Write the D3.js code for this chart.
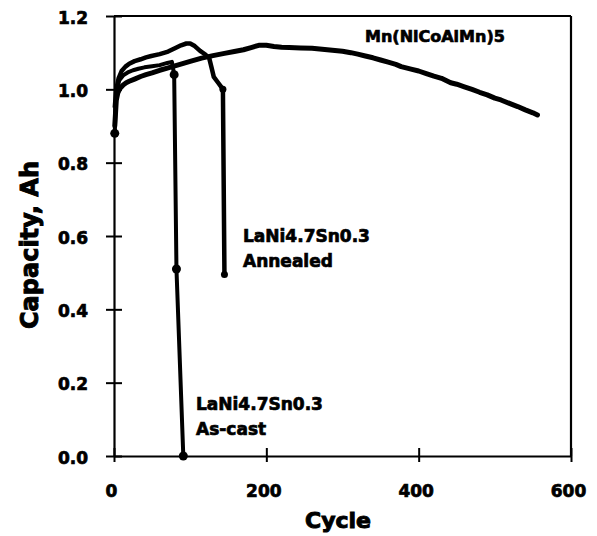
<!DOCTYPE html>
<html><head><meta charset="utf-8">
<script src="https://cdn.jsdelivr.net/npm/d3@7"></script>
<style>
html,body{margin:0;padding:0;background:#fff;}
svg{display:block;}
text{font-family:"DejaVu Sans",sans-serif;font-weight:bold;fill:#000;stroke:#000;stroke-width:0.7px;}
</style></head>
<body>
<svg id="c" width="597" height="536"></svg>
<script>
const xTicks = [0, 200, 400, 600];
const yTicks = [0, 0.2, 0.4, 0.6, 0.8, 1.0, 1.2];
const xLabel = "Cycle";
const yLabel = "Capacity, Ah";

// Mn(NiCoAlMn)5
const mnCycles = [1,3,5,8,12,16,20,27,35,42,50,60,70,80,90,100,115,130,145,158,170,180,190,200,210,220,230,245,260,270,280,290,300,311,320,330,340,350,360,370,377,390,400,410,420,430,442,450,460,470,480,490,500,508,520,530,540,550,556];
const mnCap    = [0.90,0.97,0.99,1.003,1.012,1.018,1.022,1.028,1.035,1.04,1.045,1.052,1.058,1.064,1.07,1.076,1.085,1.092,1.098,1.103,1.108,1.114,1.12,1.12,1.117,1.115,1.114,1.113,1.112,1.11,1.108,1.106,1.104,1.10,1.096,1.091,1.086,1.08,1.074,1.068,1.062,1.055,1.05,1.043,1.036,1.03,1.018,1.014,1.007,1.0,0.992,0.985,0.976,0.971,0.961,0.953,0.944,0.936,0.93];

// LaNi4.7Sn0.3 Annealed
const anCycles = [1,3,6,10,15,20,27,35,42,49,60,71,80,88,95,100,106,113,120,125,128,131,136,141,143,145];
const anCap    = [0.95,1.0,1.03,1.05,1.062,1.07,1.077,1.082,1.087,1.091,1.096,1.103,1.112,1.12,1.125,1.125,1.118,1.105,1.095,1.085,1.06,1.034,1.02,1.006,1.0,0.495];
const anMarkCycles = [143,145];
const anMarkCap    = [1.0,0.495];

// LaNi4.7Sn0.3 As-cast
const acCycles = [1,2,4,7,12,18,25,32,40,50,60,70,76,79,82,91];
const acCap    = [0.88,0.95,1.0,1.025,1.038,1.046,1.052,1.056,1.06,1.063,1.066,1.072,1.075,1.04,0.51,0.0];
const acMarkCycles = [1,79,82,91];
const acMarkCap    = [0.88,1.04,0.51,0.0];

const labels = [
  {lines:["Mn(NiCoAlMn)5"], size:16},
  {lines:["LaNi4.7Sn0.3","Annealed"], size:17},
  {lines:["LaNi4.7Sn0.3","As-cast"], size:17}
];

const svg = d3.select("#c");
const x = d3.scaleLinear().domain([0,600]).range([114,571]);
const y = d3.scaleLinear().domain([0,1.2]).range([456,16]);

// frame top & right
svg.append("line").attr("x1",x(0)).attr("x2",x(600)).attr("y1",y(1.2)).attr("y2",y(1.2))
  .attr("stroke","#000").attr("stroke-width",2.2);
svg.append("line").attr("x1",x(600)).attr("x2",x(600)).attr("y1",y(1.2)).attr("y2",y(0))
  .attr("stroke","#000").attr("stroke-width",2.2);

// axes
const gx = svg.append("g").attr("transform",`translate(0,${y(0)})`)
  .call(d3.axisBottom(x).tickValues(xTicks).tickFormat(d3.format("d")).tickSizeOuter(0));
gx.select(".domain").attr("stroke","#000").attr("stroke-width",2.2);
gx.selectAll(".tick line").attr("y1",-8).attr("y2",6).attr("stroke","#000").attr("stroke-width",2);
gx.selectAll(".tick text").attr("y",null).attr("dy",null).attr("dx",-3)
  .attr("transform","translate(0,41)").style("font-size","17px")
  .style("font-family","DejaVu Sans").style("font-weight","bold").attr("fill","#000");

const gy = svg.append("g").attr("transform",`translate(${x(0)},0)`)
  .call(d3.axisLeft(y).tickValues(yTicks).tickFormat(d3.format(".1f")).tickSizeOuter(0));
gy.select(".domain").attr("stroke","#000").attr("stroke-width",2.2);
gy.selectAll(".tick line").attr("x1",-8).attr("x2",8).attr("stroke","#000").attr("stroke-width",2);
gy.selectAll(".tick text").attr("x",-26).attr("dy","0.42em")
  .style("font-size","17px").style("font-family","DejaVu Sans").style("font-weight","bold").attr("fill","#000");

// axis titles
svg.append("text").attr("x",338).attr("y",528).attr("text-anchor","middle")
  .style("font-size","22px").style("stroke-width","1px").text(xLabel);
svg.append("text").attr("transform","translate(38,245) rotate(-90)").attr("text-anchor","middle")
  .style("font-size","24px").style("stroke-width","1px").text(yLabel);

// curves
const line = d3.line().x(d=>x(d[0])).y(d=>y(d[1]));
const zip = (a,b)=>a.map((v,i)=>[v,b[i]]);
svg.append("path").datum(zip(mnCycles,mnCap)).attr("d",line)
  .attr("fill","none").attr("stroke","#000").attr("stroke-width",5).attr("stroke-linejoin","round").attr("stroke-linecap","round");
svg.append("path").datum(zip(anCycles,anCap)).attr("d",line)
  .attr("fill","none").attr("stroke","#000").attr("stroke-width",4.5).attr("stroke-linejoin","round");
svg.append("path").datum(zip(acCycles,acCap)).attr("d",line)
  .attr("fill","none").attr("stroke","#000").attr("stroke-width",4).attr("stroke-linejoin","round");

svg.selectAll("circle.an").data(zip(anMarkCycles,anMarkCap)).enter().append("circle")
  .attr("cx",d=>x(d[0])).attr("cy",d=>y(d[1])).attr("r",3.5).attr("fill","#000");
svg.selectAll("circle.ac").data(zip(acMarkCycles,acMarkCap)).enter().append("circle")
  .attr("cx",d=>x(d[0])).attr("cy",d=>y(d[1])).attr("r",4.5).attr("fill","#000");

// annotations
const pos = [{x:365,y:42},{x:243,y:242},{x:196,y:410}];
labels.forEach((l,i)=>{
  const t = svg.append("text").attr("x",pos[i].x).attr("y",pos[i].y).style("font-size",l.size+"px");
  l.lines.forEach((s,j)=>{
    t.append("tspan").attr("x",pos[i].x).attr("y",pos[i].y + j*25).text(s);
  });
});
</script>
</body></html>
